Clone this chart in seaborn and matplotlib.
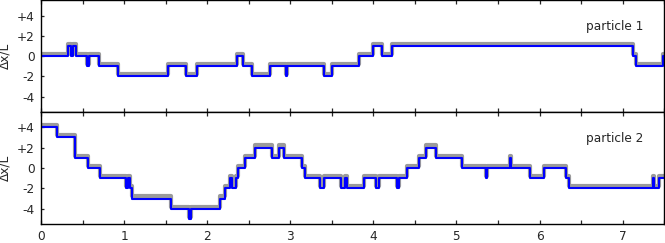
import numpy as np
import matplotlib
matplotlib.use("Agg")
import matplotlib.pyplot as plt
import seaborn as sns
from matplotlib.ticker import MultipleLocator, FixedLocator, FixedFormatter

# ---- data: step-change times and levels (in units of L) ----
p1_t = [0, 0.32, 0.36, 0.38, 0.425, 0.557, 0.58, 0.70, 0.93, 1.53,
        1.745, 1.88, 2.36, 2.435, 2.54, 2.75, 2.945, 2.965, 3.41, 3.50,
        3.83, 4.00, 4.10, 4.23, 7.13, 7.16, 7.49, 7.5]
p1_y = [0, 1, 0, 1, 0, -1, 0, -1, -2, -1,
        -2, -1, 0, -1, -2, -1, -2, -1, -2, -1,
        0, 1, 0, 1, 0, -1, 0, 0]

p2_t = [0, 0.196, 0.41, 0.57, 0.71, 1.02, 1.045, 1.07, 1.10, 1.57,
        1.785, 1.80, 2.16, 2.22, 2.28, 2.30, 2.345, 2.37, 2.46, 2.57,
        2.78, 2.86, 2.92, 3.14, 3.18, 3.36, 3.40, 3.61, 3.66, 3.68,
        3.89, 4.03, 4.07, 4.28, 4.31, 4.40, 4.55, 4.63, 4.75, 5.07,
        5.355, 5.37, 5.645, 5.66, 5.88, 6.06, 6.32, 6.35, 7.36, 7.38,
        7.44, 7.5]
p2_y = [4, 3, 1, 0, -1, -2, -1, -2, -3, -4,
        -5, -4, -3, -2, -1, -2, -1, 0, 1, 2,
        1, 2, 1, 0, -1, -2, -1, -2, -1, -2,
        -1, -2, -1, -2, -1, 0, 1, 2, 1, 0,
        -1, 0, 1, 0, -1, 0, -1, -2, -1, -2,
        -1, -1]

labels = ["particle 1", "particle 2"]
ytick_vals = [-4, -2, 0, 2, 4]
ytick_text = ["-4", "-2", "0", "+2", "+4"]
xtick_vals = [0, 1, 2, 3, 4, 5, 6, 7]

sns.set_style("ticks")
plt.rcParams["font.family"] = ["DejaVu Sans"]
plt.rcParams["font.size"] = 8.7

fig = plt.figure(figsize=(6.65, 2.43), dpi=100)
ax1 = fig.add_axes([0.0617, 0.5403, 0.937, 0.4580])
ax2 = fig.add_axes([0.0617, 0.0770, 0.937, 0.4633])

for ax, t, y, lab in [(ax1, p1_t, p1_y, labels[0]), (ax2, p2_t, p2_y, labels[1])]:
    ta = np.asarray(t, float)
    ya = np.asarray(y, float)
    # gray trace: raw signal drawn as a thick band sitting just above the fit
    sns.lineplot(x=ta, y=ya + 0.22, ax=ax, drawstyle="steps-post", color="#9b9b9b",
                 linewidth=3.0, estimator=None, sort=False, zorder=1)
    sns.lineplot(x=ta, y=ya, ax=ax, drawstyle="steps-post", color="#0000ff",
                 linewidth=1.5, estimator=None, sort=False, zorder=2)
    ax.set_xlim(0, 7.5)
    ax.set_ylim(-5.5, 5.5)
    ax.yaxis.set_major_locator(FixedLocator(ytick_vals))
    ax.yaxis.set_major_formatter(FixedFormatter(ytick_text))
    ax.xaxis.set_major_locator(FixedLocator(xtick_vals))
    ax.xaxis.set_minor_locator(MultipleLocator(0.5))
    ax.tick_params(axis="x", which="both", direction="in", top=True, bottom=True,
                   length=3, width=0.9, pad=4, labelsize=8.7)
    ax.tick_params(axis="y", which="both", direction="in", left=True, right=False,
                   length=2.2, width=0.9, pad=4.5, labelsize=8.7)
    for s in ax.spines.values():
        s.set_visible(True)
        s.set_linewidth(1.0)
        s.set_color("black")
    ax.set_xlabel("")
    ax.set_ylabel("Δx/L", fontsize=8.7)
    ax.yaxis.set_label_coords(-0.047, 0.5)
    ax.text(0.966, 0.765, lab, transform=ax.transAxes, ha="right", va="center",
            fontsize=8.7)

ax1.tick_params(axis="x", labelbottom=False)

fig.savefig("out.png", dpi=100)
